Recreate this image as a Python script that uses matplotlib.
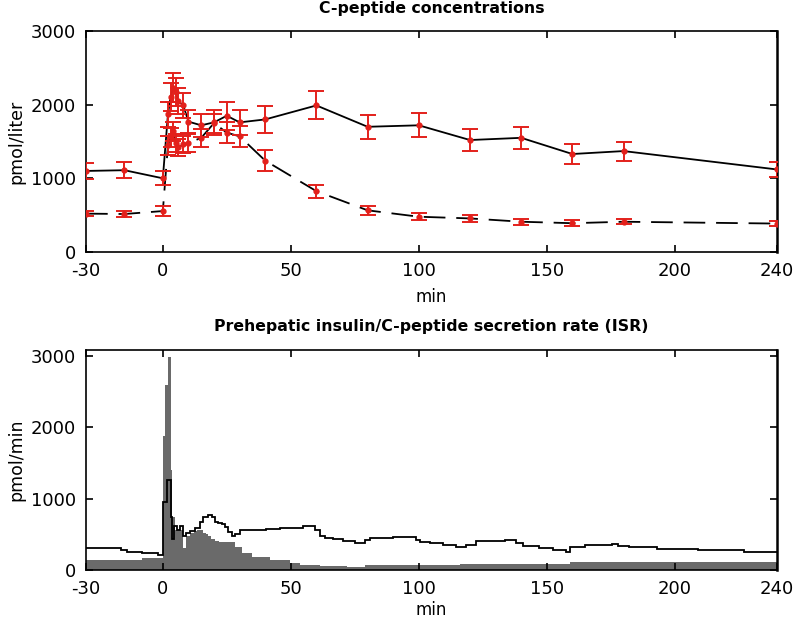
import numpy as np
import matplotlib.pyplot as plt

plt.rcParams['axes.unicode_minus'] = False

# C-peptide concentrations (pmol/liter)
t_cp = [-30, -15, 0, 2, 3, 4, 5, 6, 8, 10, 15, 20, 25, 30, 40, 60, 80, 100, 120, 140, 160, 180, 240]
cp_a = [1100, 1110, 1000, 1870, 2100, 2230, 2170, 2050, 1990, 1770, 1720, 1760, 1850, 1760, 1800, 1990, 1700, 1720, 1520, 1550, 1330, 1370, 1120]
cp_a_err = [110, 110, 95, 170, 190, 200, 190, 180, 170, 160, 160, 170, 190, 170, 180, 190, 160, 165, 150, 150, 130, 130, 105]
cp_b = [520, 515, 555, 1450, 1560, 1640, 1480, 1420, 1460, 1480, 1550, 1750, 1620, 1570, 1240, 825, 565, 478, 455, 410, 390, 410, 385]
cp_b_err = [36, 36, 64, 130, 130, 130, 120, 120, 120, 120, 120, 130, 140, 140, 140, 86, 60, 45, 45, 40, 40, 35, 30]

# ISR, gray filled steps
isr_a_edges = [-30, -8, 0, 1, 2, 3, 3.5, 4.8, 6.7, 8.0, 9.0, 10.6, 12, 13.2, 14.5, 15.8, 16.8, 17.8, 19, 20.4,
               22, 28.2, 30.8, 34.7, 41.9, 49.6, 53.5, 61.3, 72, 79, 116, 159, 240]
isr_a = [135, 165, 1880, 2590, 2985, 1400, 750, 560, 560, 308, 476, 520, 545, 560, 555, 520, 500, 470, 440,
         410, 397, 327, 243, 187, 140, 103, 70, 56, 37, 65, 80, 110]

# ISR, black step line
isr_b_edges = [-30, -16.5, -14, -8, -2, 0, 1.5, 3.2, 3.6, 4.4, 5.4, 6.7, 8, 9.1, 10.6, 12.6, 14.5, 15.8, 17.8,
               19.1, 20.4, 21.7, 23, 24.3, 25.6, 26.9, 28.2, 30, 40.5, 45.7, 54.8, 59.4, 61.3, 63.3, 66.5,
               70.4, 75, 79, 81, 90, 99, 100.3, 104.2, 109.4, 114.6, 118.5, 122.5, 133.6, 138, 140.6, 147,
               152.3, 157.5, 159, 165, 175.5, 178, 182, 193, 209, 227, 240]
isr_b = [305, 280, 258, 235, 212, 960, 1265, 750, 440, 610, 560, 610, 476, 514, 540, 585, 677, 738, 775,
         738, 680, 660, 650, 598, 536, 476, 504, 560, 574, 593, 620, 560, 476, 453, 430, 406, 373, 420,
         442, 467, 420, 397, 373, 350, 322, 355, 410, 418, 373, 330, 305, 283, 257, 325, 345, 370, 340,
         327, 300, 275, 250]

xticks = [-30, 0, 50, 100, 150, 200, 240]
yticks = [0, 1000, 2000, 3000]

red = '#e3201b'

fig = plt.figure(figsize=(7.93, 6.22), dpi=100)
ax1 = fig.add_axes([0.1085, 0.595, 0.8715, 0.355])
ax2 = fig.add_axes([0.1085, 0.0836, 0.8715, 0.3537])

ax1.plot(t_cp, cp_a, color='black', lw=1.3, zorder=2)
ax1.plot(t_cp, cp_b, color='black', lw=1.3, linestyle=(0, (12, 6)), zorder=2)
for vals, errs in [(cp_a, cp_a_err), (cp_b, cp_b_err)]:
    ax1.errorbar(t_cp, vals, yerr=errs, fmt='o', color=red, ms=3.5, elinewidth=1.4,
                 capsize=5.5, capthick=1.4, zorder=3)
ax1.set_ylim(0, 3000)
ax1.set_title('C-peptide concentrations', fontsize=11.3, fontweight='bold', pad=13)
ax1.set_ylabel('pmol/liter', fontsize=12.5)
ax1.set_xlabel('min', fontsize=12, labelpad=6)

ax2.stairs(isr_a, isr_a_edges, fill=True, color='#6a6a6a', zorder=1)
ax2.stairs(isr_b, isr_b_edges, color='black', lw=1.3, baseline=None, zorder=2)
ax2.set_ylim(0, 3085)
ax2.set_title('Prehepatic insulin/C-peptide secretion rate (ISR)', fontsize=11.3, fontweight='bold', pad=14)
ax2.set_ylabel('pmol/min', fontsize=12.5)
ax2.set_xlabel('min', fontsize=12, labelpad=2)

for ax in (ax1, ax2):
    ax.set_xlim(-30, 240)
    ax.set_xticks(xticks)
    ax.set_yticks(yticks)
    ax.tick_params(direction='in', top=True, right=True, length=5, width=1.2, labelsize=13, pad=7)
    for s in ax.spines.values():
        s.set_linewidth(1.2)
    ax.spines['right'].set_linewidth(1.8)

fig.savefig('out.png', dpi=100)
